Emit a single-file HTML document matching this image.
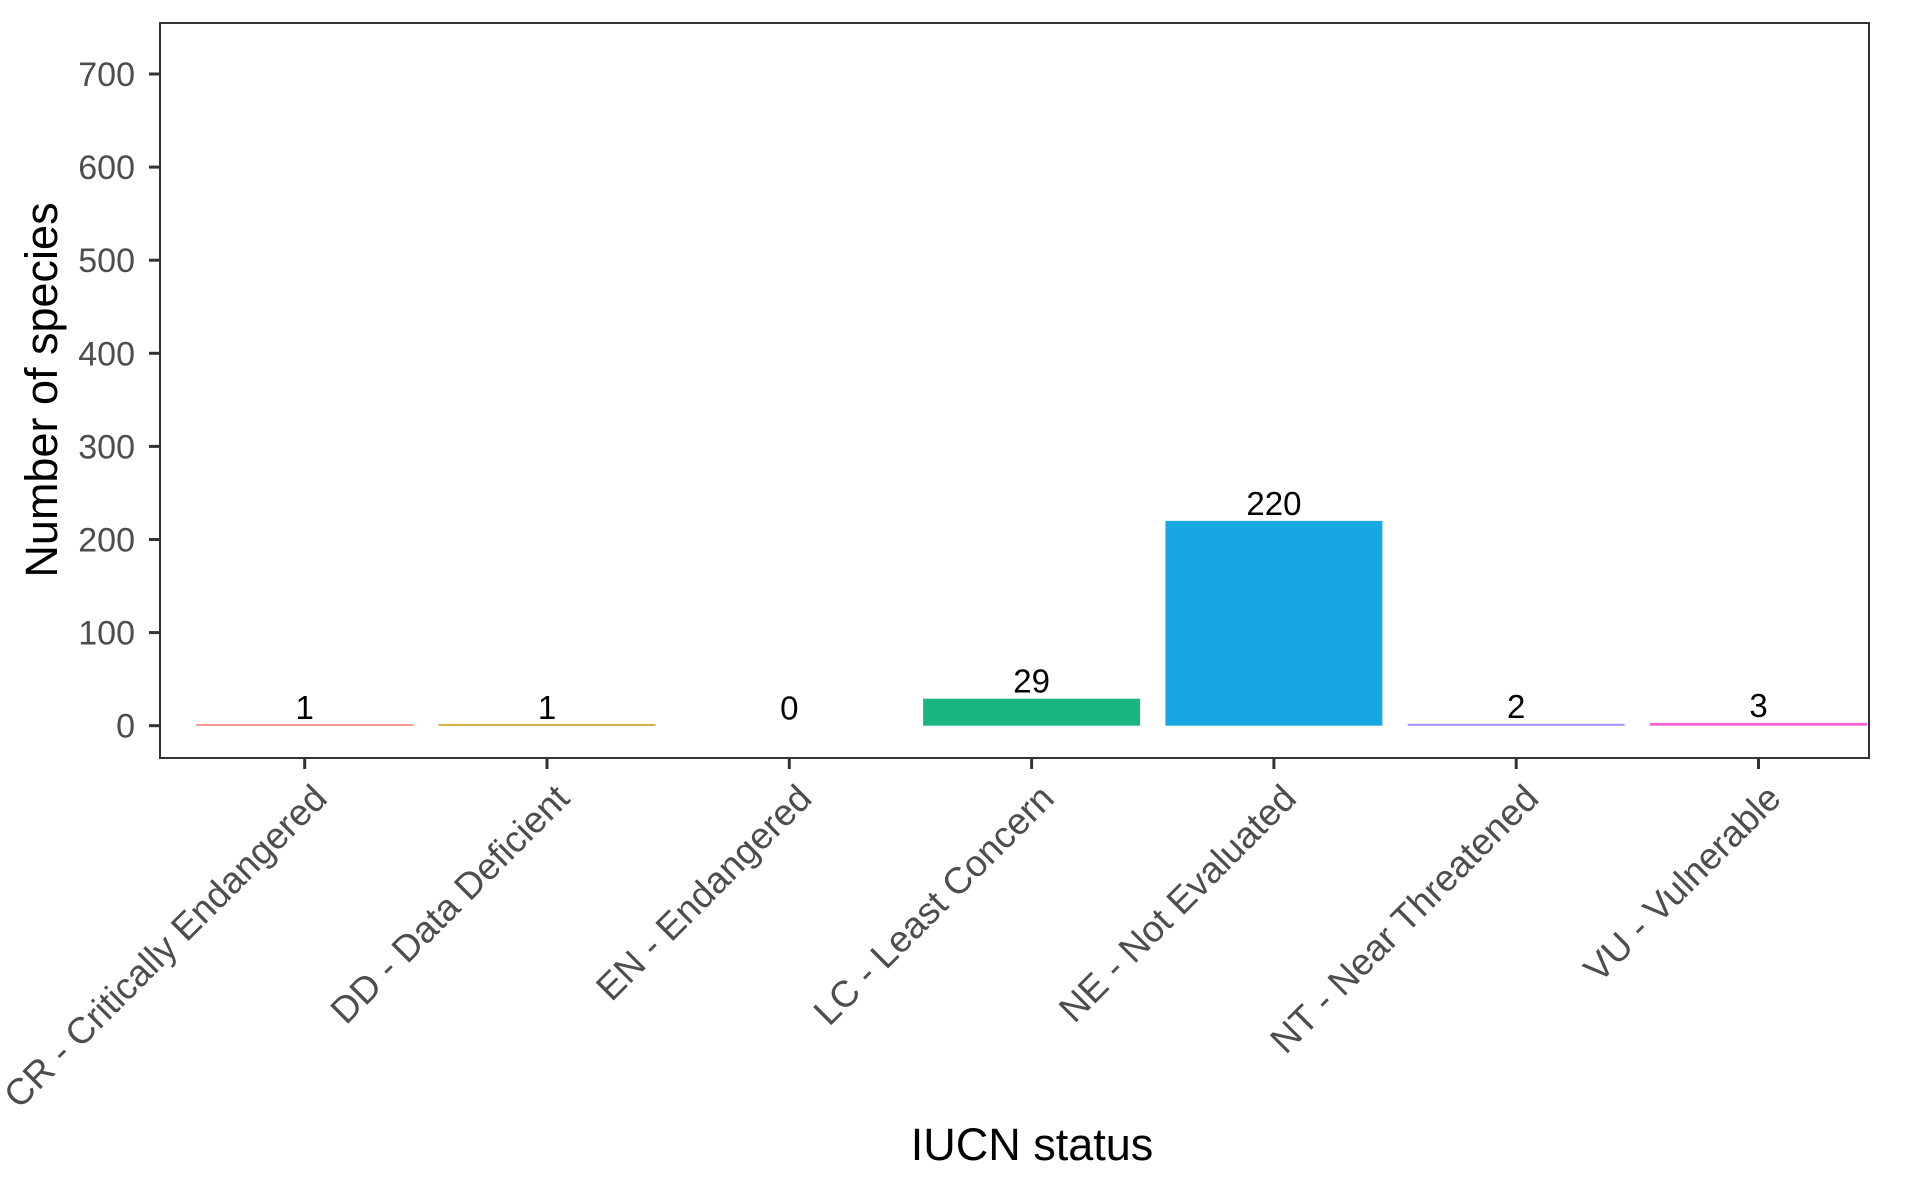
<!DOCTYPE html>
<html><head><meta charset="utf-8"><style>
body{margin:0;background:#fff}
svg text{font-family:"Liberation Sans",Arial,sans-serif}
</style></head><body>
<svg id="chart" width="1928" height="1191" viewBox="0 0 1928 1191" xmlns="http://www.w3.org/2000/svg">
<rect width="1928" height="1191" fill="#fff"/>
<g id="bars"></g>
<g id="yaxis"></g>
<g id="xaxis"></g>
<rect x="160" y="23" width="1709" height="735" fill="none" stroke="#333" stroke-width="2"/>
<text transform="translate(57,390) rotate(-90)" text-anchor="middle" font-size="45" fill="#000">Number of species</text>
<text x="1032" y="1160" text-anchor="middle" font-size="45" fill="#000">IUCN status</text>
</svg>
<script>
const categories=["CR - Critically Endangered","DD - Data Deficient","EN - Endangered","LC - Least Concern","NE - Not Evaluated","NT - Near Threatened","VU - Vulnerable"];
const values=[1,1,0,29,220,2,3];
const colors=["#F8766D","#C49A00","#53B400","#19B683","#17A8E3","#A58AFF","#FB61D7"];
const yTicks=[0,100,200,300,400,500,600,700];
const NS="http://www.w3.org/2000/svg";
const y0=725.7, pxPer=0.931;
function yScale(v){return y0-v*pxPer;}
function xScale(i){return 304.7+i*242.3;}
const bw=217;
const bars=document.getElementById('bars');
const ya=document.getElementById('yaxis');
const xa=document.getElementById('xaxis');
function mk(tag,attrs,parent){const e=document.createElementNS(NS,tag);for(const k in attrs)e.setAttribute(k,attrs[k]);parent.appendChild(e);return e;}
values.forEach((v,i)=>{
  const cx=xScale(i);
  if(v>0){
    const h=Math.max(v*pxPer,1.5);
    const r=mk('rect',{x:cx-bw/2,y:y0-h,width:bw,height:h,fill:colors[i]},bars);
    
    
  }
  const t=mk('text',{x:cx,y:yScale(v)-6,'text-anchor':'middle','font-size':33,fill:'#000'},bars);
  t.textContent=v;
  
  
  const tk=mk('line',{x1:cx,x2:cx,y1:758,y2:769,stroke:'#333','stroke-width':3},xa);
  
  
  const lb=mk('text',{transform:`translate(${cx+4},${780}) rotate(-45)`,'text-anchor':'end',dy:'0.78em','font-size':37,fill:'#4d4d4d'},xa);
  lb.textContent=categories[i];
  
  
});
yTicks.forEach(v=>{
  const y=yScale(v);
  const tk=mk('line',{x1:149,x2:160,y1:y,y2:y,stroke:'#333','stroke-width':3},ya);
  
  
  const t=mk('text',{x:135,y:y+12,'text-anchor':'end','font-size':34,fill:'#4d4d4d'},ya);
  t.textContent=v;
  
  
});
</script>
</body></html>
